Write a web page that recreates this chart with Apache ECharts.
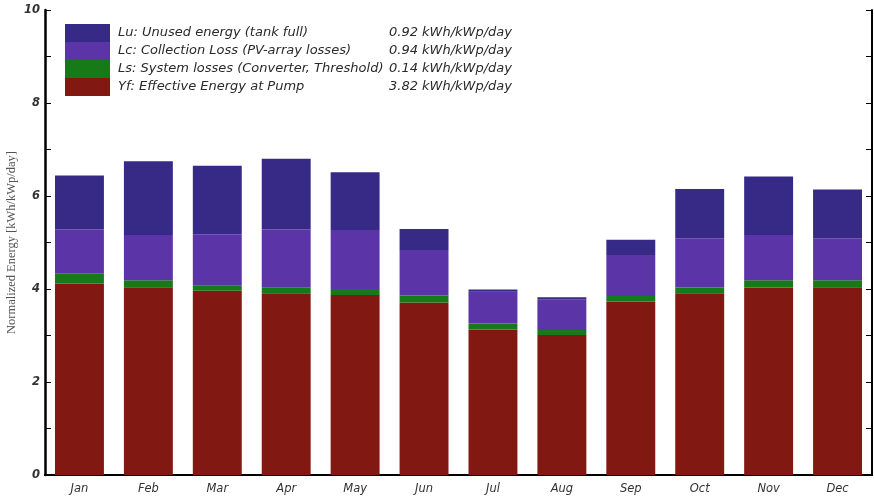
<!DOCTYPE html>
<html><head><meta charset="utf-8">
<script src="https://cdn.jsdelivr.net/npm/echarts@6/dist/echarts.min.js"></script>
<style>html,body{margin:0;padding:0;background:#fff}#c{width:874px;height:498px}</style>
</head><body><div id="c"></div>
<script>
const months = ['Jan','Feb','Mar','Apr','May','Jun','Jul','Aug','Sep','Oct','Nov','Dec'];
const yf = [4.12,4.04,3.96,3.91,3.87,3.71,3.13,3.01,3.73,3.91,4.03,4.04];
const ls = [0.22,0.15,0.11,0.13,0.13,0.15,0.13,0.11,0.12,0.12,0.16,0.15];
const lc = [0.94,0.97,1.11,1.24,1.27,0.98,0.68,0.66,0.88,1.06,0.97,0.90];
const lu = [1.16,1.59,1.47,1.52,1.24,0.45,0.05,0.04,0.33,1.06,1.26,1.05];
const seriesNames = ['Lu: Unused energy (tank full)','Lc: Collection Loss (PV-array losses)','Ls: System losses (Converter, Threshold)','Yf: Effective Energy at Pump'];
const legendValues = ['0.92 kWh/kWp/day','0.94 kWh/kWp/day','0.14 kWh/kWp/day','3.82 kWh/kWp/day'];
const colors = ['#372a86','#5b35a8','#157a17','#821812'];
const yTicks = [0,1,2,3,4,5,6,7,8,9,10];

const chart = echarts.init(document.getElementById('c'));
const FONT = 'DejaVu Sans, Verdana, sans-serif';
function mk(name, data, idx){
  return {name:name, type:'bar', stack:'t', data:data, barCategoryGap:'29%',
    itemStyle:{color:colors[idx], borderWidth:0}};
}
chart.setOption({
  animation:false,
  grid:{left:45, right:2, top:10, bottom:23, outerBoundsMode:'none', containLabel:false},
  legend:{
    orient:'vertical', left:63, top:22, itemWidth:45, itemHeight:18, itemGap:0,
    icon:'rect', padding:[2,2,2,2], selectedMode:false,
    itemStyle:{borderWidth:0},
    data:seriesNames,
    formatter:function(n){ const i=seriesNames.indexOf(n); return '{a|'+n+'}{b|'+legendValues[i]+'}'; },
    textStyle:{lineHeight:18, rich:{
      a:{width:271, padding:[0,0,0,3], height:18, lineHeight:18, fontSize:13, fontStyle:'italic', fontFamily:FONT, color:'#2a2a2a'},
      b:{height:18, lineHeight:18, fontSize:13, fontStyle:'italic', fontFamily:FONT, color:'#2a2a2a'}
    }}
  },
  xAxis:[{
    type:'category', data:months, position:'bottom',
    axisLine:{lineStyle:{color:'#000', width:2}},
    axisTick:{inside:true, length:6, lineStyle:{color:'#000'}},
    axisLabel:{fontSize:11.5, margin:8, fontFamily:FONT, fontStyle:'italic', color:'#333'}
  },{
    type:'category', data:months, position:'top',
    axisLine:{lineStyle:{color:'#000', width:2}},
    axisTick:{inside:true, length:6, lineStyle:{color:'#000'}},
    axisLabel:{show:false}
  }],
  yAxis:[{
    type:'value', min:0, max:10, interval:1, position:'left',
    name:'Normalized Energy [kWh/kWp/day]', nameLocation:'middle', nameGap:27, nameRotate:90,
    nameMoveOverlap:false,
    nameTextStyle:{fontFamily:'Liberation Serif, Times New Roman, serif', fontSize:12.5, color:'#555'},
    axisLine:{show:true, lineStyle:{color:'#000', width:2.5}},
    axisTick:{show:true, inside:true, length:6, lineStyle:{color:'#000'}},
    splitLine:{show:false},
    axisLabel:{fontSize:11.5, fontWeight:'bold', fontStyle:'italic', fontFamily:FONT, color:'#333', margin:5,
      formatter:function(v){return (yTicks.indexOf(v)>=0 && v%2===0)?String(v):'';}}
  },{
    type:'value', min:0, max:10, interval:1, position:'right',
    axisLine:{show:true, lineStyle:{color:'#000', width:2}},
    axisTick:{show:true, inside:true, length:6, lineStyle:{color:'#000'}},
    splitLine:{show:false}, axisLabel:{show:false}
  }],
  series:[mk(seriesNames[3], yf, 3), mk(seriesNames[2], ls, 2), mk(seriesNames[1], lc, 1), mk(seriesNames[0], lu, 0)]
});
</script></body></html>
